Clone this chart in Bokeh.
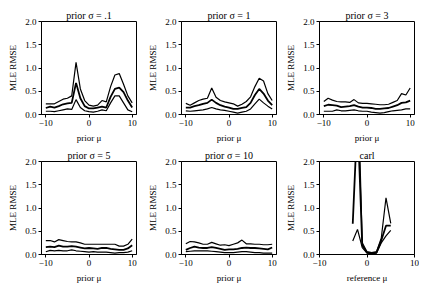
from bokeh.plotting import figure
from bokeh.layouts import gridplot
from bokeh.models import Range1d, FixedTicker
from bokeh.embed import file_html
from bokeh.resources import INLINE

prior_mu = list(range(-10, 11))

# prior sigma = .1
s01_lo = [0.07, 0.07, 0.06, 0.08, 0.10, 0.12, 0.11, 0.32, 0.15, 0.08, 0.06, 0.05, 0.07, 0.10, 0.08, 0.25, 0.40, 0.40, 0.25, 0.10, 0.06]
s01_md = [0.14, 0.17, 0.15, 0.18, 0.22, 0.24, 0.25, 0.68, 0.35, 0.18, 0.13, 0.13, 0.15, 0.17, 0.15, 0.38, 0.55, 0.58, 0.48, 0.30, 0.15]
s01_hi = [0.23, 0.23, 0.23, 0.28, 0.33, 0.35, 0.40, 1.12, 0.55, 0.30, 0.20, 0.18, 0.20, 0.30, 0.27, 0.60, 0.85, 0.88, 0.65, 0.40, 0.25]
# prior sigma = 1
s1_lo = [0.08, 0.07, 0.08, 0.09, 0.10, 0.12, 0.15, 0.12, 0.10, 0.09, 0.07, 0.05, 0.03, 0.05, 0.07, 0.12, 0.23, 0.33, 0.25, 0.18, 0.12]
s1_md = [0.15, 0.15, 0.18, 0.20, 0.23, 0.25, 0.32, 0.25, 0.20, 0.17, 0.15, 0.12, 0.12, 0.14, 0.16, 0.25, 0.42, 0.55, 0.45, 0.30, 0.20]
s1_hi = [0.24, 0.20, 0.25, 0.30, 0.33, 0.35, 0.57, 0.37, 0.30, 0.27, 0.25, 0.23, 0.18, 0.22, 0.28, 0.38, 0.60, 0.78, 0.72, 0.45, 0.30]
# prior sigma = 3
s3_lo = [0.07, 0.07, 0.07, 0.10, 0.08, 0.08, 0.09, 0.10, 0.08, 0.07, 0.07, 0.05, 0.04, 0.03, 0.04, 0.06, 0.08, 0.09, 0.10, 0.12, 0.12]
s3_md = [0.18, 0.21, 0.20, 0.19, 0.16, 0.17, 0.18, 0.20, 0.17, 0.15, 0.15, 0.14, 0.12, 0.12, 0.13, 0.14, 0.17, 0.20, 0.25, 0.26, 0.30]
s3_hi = [0.28, 0.35, 0.31, 0.28, 0.27, 0.27, 0.26, 0.32, 0.25, 0.24, 0.24, 0.23, 0.22, 0.21, 0.21, 0.22, 0.26, 0.30, 0.45, 0.42, 0.57]
# prior sigma = 5
s5_lo = [0.06, 0.09, 0.08, 0.09, 0.08, 0.08, 0.10, 0.08, 0.07, 0.06, 0.05, 0.06, 0.05, 0.05, 0.05, 0.04, 0.03, 0.04, 0.04, 0.05, 0.08]
s5_md = [0.16, 0.17, 0.16, 0.19, 0.17, 0.17, 0.18, 0.17, 0.15, 0.13, 0.14, 0.13, 0.12, 0.14, 0.14, 0.12, 0.11, 0.10, 0.10, 0.13, 0.20]
s5_hi = [0.30, 0.30, 0.27, 0.32, 0.30, 0.28, 0.27, 0.27, 0.25, 0.22, 0.22, 0.22, 0.22, 0.22, 0.22, 0.22, 0.22, 0.18, 0.18, 0.22, 0.33]
# prior sigma = 10
s10_lo = [0.06, 0.07, 0.08, 0.08, 0.08, 0.08, 0.07, 0.06, 0.05, 0.04, 0.04, 0.04, 0.05, 0.06, 0.06, 0.05, 0.04, 0.04, 0.03, 0.03, 0.03]
s10_md = [0.10, 0.14, 0.17, 0.15, 0.14, 0.14, 0.16, 0.14, 0.12, 0.10, 0.11, 0.11, 0.12, 0.14, 0.15, 0.14, 0.14, 0.13, 0.12, 0.11, 0.15]
s10_hi = [0.23, 0.28, 0.27, 0.25, 0.22, 0.22, 0.26, 0.23, 0.20, 0.21, 0.19, 0.22, 0.25, 0.31, 0.23, 0.23, 0.22, 0.22, 0.21, 0.21, 0.22]
# carl
ref_mu = [-3, -2, -1, 0, 1, 2, 3, 4, 5]
carl_lo = [0.29, 0.54, 0.15, 0.03, 0.02, 0.03, 0.25, 0.40, 0.52]
carl_md = [0.66, 3.00, 0.20, 0.04, 0.03, 0.04, 0.30, 0.62, 0.62]
carl_hi = [3.50, 4.00, 0.25, 0.06, 0.04, 0.06, 0.35, 1.22, 0.67]

titles = ["prior σ = .1", "prior σ = 1", "prior σ = 3", "prior σ = 5", "prior σ = 10", "carl"]
xlabels = ["prior μ"] * 5 + ["reference μ"]
y_ticks = [0.0, 0.5, 1.0, 1.5, 2.0]
x_ticks = [-10, 0, 10]

FONT = "Liberation Serif"

panels = [
    (prior_mu, s01_lo, s01_md, s01_hi),
    (prior_mu, s1_lo, s1_md, s1_hi),
    (prior_mu, s3_lo, s3_md, s3_hi),
    (prior_mu, s5_lo, s5_md, s5_hi),
    (prior_mu, s10_lo, s10_md, s10_hi),
    (ref_mu, carl_lo, carl_md, carl_hi),
]

# borders per column (left, right) and row (top, bottom)
col_b = [(41, 9), (36, 7), (36, 5)]
row_b = [(21, 30), (16, 27)]

figs = []
for i, (xs, lo, md, hi) in enumerate(panels):
    r, c = divmod(i, 3)
    xr = Range1d(-10, 10) if i == 5 else Range1d(-11, 11)
    p = figure(frame_width=95, frame_height=93, x_range=xr, y_range=Range1d(0, 2),
               output_backend="svg", toolbar_location=None,
               min_border_left=col_b[c][0], min_border_right=col_b[c][1],
               min_border_top=row_b[r][0], min_border_bottom=row_b[r][1])
    p.title.text = titles[i]
    p.title.align = "center"
    p.title.text_font = FONT
    p.title.text_font_size = "10px"
    p.title.text_font_style = "normal"
    p.title.text_color = "black"
    p.title.standoff = 2
    p.title.offset = 0
    p.xgrid.visible = False
    p.ygrid.visible = False
    p.outline_line_color = "black"
    p.outline_line_width = 1
    p.background_fill_color = "white"
    p.border_fill_color = "white"
    for ax in (p.xaxis[0], p.yaxis[0]):
        ax.axis_line_color = "black"
        ax.major_tick_line_color = "black"
        ax.major_tick_out = 3
        ax.major_tick_in = 0
        ax.minor_tick_line_color = None
        ax.major_label_text_font = FONT
        ax.major_label_text_font_size = "9px"
        ax.major_label_text_color = "black"
        ax.axis_label_text_font = FONT
        ax.axis_label_text_font_size = "9px"
        ax.axis_label_text_font_style = "normal"
        ax.axis_label_text_color = "black"
        ax.major_label_standoff = 2
        ax.axis_label_standoff = 4
    p.xaxis.ticker = FixedTicker(ticks=x_ticks)
    p.xaxis.major_label_overrides = {-10: "−10", 0: "0", 10: "10"}
    p.yaxis.ticker = FixedTicker(ticks=y_ticks)
    p.yaxis.major_label_overrides = {0: "0.0", 0.5: "0.5", 1: "1.0", 1.5: "1.5", 2: "2.0"}
    p.xaxis.axis_label = xlabels[i]
    p.yaxis.axis_label = "MLE RMSE"
    p.line(xs, lo, line_color="black", line_width=1.2)
    p.line(xs, md, line_color="black", line_width=1.8)
    p.line(xs, hi, line_color="black", line_width=1.2)
    figs.append(p)

grid = gridplot([figs[0:3], figs[3:6]], toolbar_location=None)

open("out.html", "w").write(file_html(grid, INLINE))
